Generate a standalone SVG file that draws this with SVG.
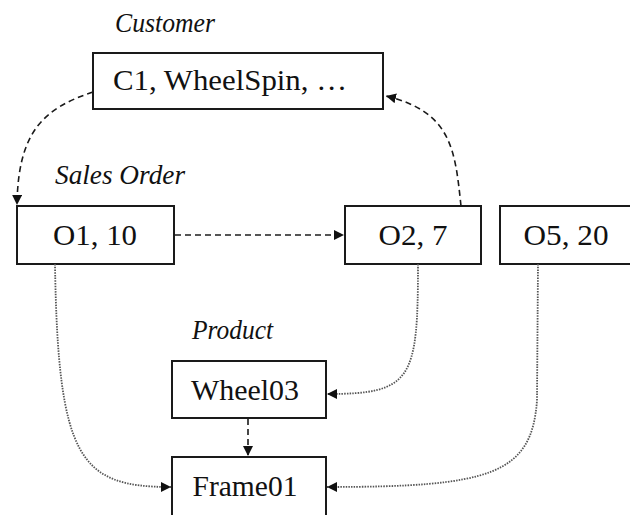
<svg xmlns="http://www.w3.org/2000/svg" width="630" height="515" viewBox="0 0 630 515">
  <style>
    .box { fill: #ffffff; stroke: #1a1a1a; stroke-width: 2; }
    .t { font-family: "Liberation Serif", "Times New Roman", serif; font-size: 29px; fill: #111; text-anchor: middle; }
    .lbl { font-family: "Liberation Serif", "Times New Roman", serif; font-style: italic; font-size: 27px; fill: #111; }
    .dash { fill: none; stroke: #1a1a1a; stroke-width: 1.6; stroke-dasharray: 6 4; }
    .dashg { fill: none; stroke: #555; stroke-width: 2; stroke-dasharray: 6 4; }
    .dot { fill: none; stroke: #555; stroke-width: 1.8; stroke-dasharray: 1.5 1.2; }
  </style>
  <defs>
    <marker id="ah" viewBox="0 0 10 10" refX="10" refY="5" markerWidth="10" markerHeight="10" markerUnits="userSpaceOnUse" orient="auto">
      <path d="M0,0 L10,5 L0,10 z" fill="#111"/>
    </marker>
  </defs>

  <text class="lbl" x="115" y="32" textLength="100" lengthAdjust="spacingAndGlyphs">Customer</text>
  <text class="lbl" x="55" y="184" textLength="130" lengthAdjust="spacingAndGlyphs">Sales Order</text>
  <text class="lbl" x="192" y="339" textLength="81" lengthAdjust="spacingAndGlyphs">Product</text>

  <g id="customer">
    <rect class="box" x="93" y="53" width="290" height="56"/>
    <text class="t" x="230" y="90" textLength="234" lengthAdjust="spacingAndGlyphs">C1, WheelSpin, …</text>
  </g>
  <g id="o1">
    <rect class="box" x="17" y="206" width="157" height="58"/>
    <text class="t" x="95" y="245" textLength="84" lengthAdjust="spacingAndGlyphs">O1, 10</text>
  </g>
  <g id="o2">
    <rect class="box" x="345" y="206" width="136" height="58"/>
    <text class="t" x="413" y="245" textLength="69" lengthAdjust="spacingAndGlyphs">O2, 7</text>
  </g>
  <g id="o5">
    <rect class="box" x="500" y="206" width="136" height="58"/>
    <text class="t" x="566" y="245" textLength="85" lengthAdjust="spacingAndGlyphs">O5, 20</text>
  </g>
  <g id="wheel03">
    <rect class="box" x="172" y="361" width="154" height="57"/>
    <text class="t" x="245" y="400" textLength="108" lengthAdjust="spacingAndGlyphs">Wheel03</text>
  </g>
  <g id="frame01">
    <rect class="box" x="172" y="457" width="154" height="62"/>
    <text class="t" x="245" y="496" textLength="105" lengthAdjust="spacingAndGlyphs">Frame01</text>
  </g>

  <g id="connectors">
    <path class="dash" d="M93,92 C45,108 18,130 17,205" marker-end="url(#ah)"/>
    <path class="dashg" d="M175,235 L344,235" marker-end="url(#ah)"/>
    <path class="dash" d="M461,206 C455,150 452,112 386,96" marker-end="url(#ah)"/>
    <path class="dash" d="M248,419 L248,456" marker-end="url(#ah)"/>
    <path class="dot" d="M418,264 C418,380 412,394 327,394" marker-end="url(#ah)"/>
    <path class="dot" d="M55,264 C58,460 80,487 171,487" marker-end="url(#ah)"/>
    <path class="dot" d="M538,264 L537,400 C532,475 490,487 327,487" marker-end="url(#ah)"/>
  </g>
</svg>
